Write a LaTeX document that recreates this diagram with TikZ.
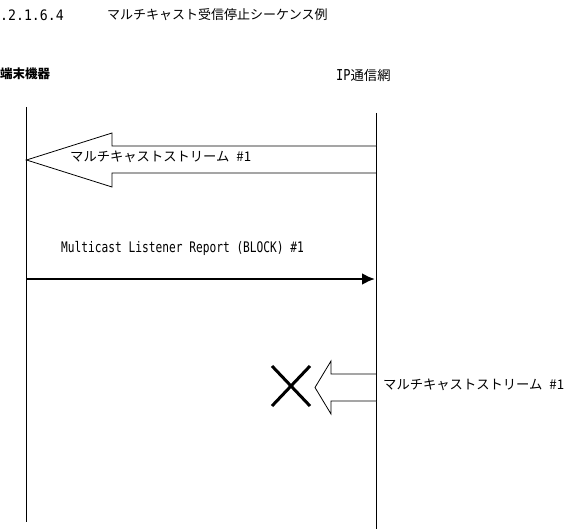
\documentclass[tikz,border=0pt]{standalone}
\usepackage{fontspec}
\setmainfont{Noto Sans CJK JP}
\newfontfamily\lat{DejaVu Sans Mono}
\usetikzlibrary{arrows.meta}
\tikzset{
  jp/.style={inner sep=0pt, anchor=west, font=\fontsize{13.3}{14}\selectfont},
  life/.style={line width=0.9pt},
  fat/.style={draw, line width=0.8pt, fill=white, line join=miter},
  msg/.style={line width=2.5pt, -{Latex[length=13pt,width=12pt]}},
  cross/.style={line width=3pt}
}
\begin{document}
\begin{tikzpicture}[x=1pt,y=-1pt]
\useasboundingbox[fill=white] (0,0) rectangle (584,532);
% title
\node[jp] (num) at (0,15) {\lat\fontsize{12}{14}\selectfont\scalebox{1.1}[1.2]{.2.1.6.4}};
\node[jp, font=\fontsize{13}{14}\selectfont] (title) at (107,15) {マルチキャスト受信停止シーケンス例};
% actors
\node[jp, font=\fontsize{12.5}{14}\selectfont\bfseries] (term) at (0,74) {端末機器};
\node[jp, font=\fontsize{13.3}{14}\selectfont] (ipnet) at (336,75) {{\lat\fontsize{12}{14}\selectfont\scalebox{1}[1.25]{IP}}通信網};
% lifelines
\coordinate (lt) at (26.5,107); \coordinate (lb) at (26.5,522);
\coordinate (rt) at (376.5,113); \coordinate (rb) at (376.5,529);
\draw[life] (lt) -- (lb);
\draw[life] (rt) -- (rb);
% big arrow 1
\draw[fat] (26.5,160) -- (112,133) -- (112,146) -- (376.5,146) -- (376.5,173) -- (112,173) -- (112,187) -- cycle;
\draw[line width=1.5pt] (376.5,146) -- (376.5,173);
\node[jp] (s1) at (70,157) {マルチキャストストリーム\hspace{7pt}\#1};
% message
\node[jp] (m) at (61,248) {\lat\fontsize{11.2}{14}\selectfont\scalebox{1}[1.3]{Multicast Listener Report (BLOCK) \#1}};
\coordinate (ms) at (26.5,279); \coordinate (me) at (375,279);
\draw[msg] (ms) -- (me);
% big arrow 2
\draw[fat] (315,387.5) -- (331,361) -- (331,374) -- (376.5,374) -- (376.5,401) -- (331,401) -- (331,414) -- cycle;
\node[jp] (s2) at (383,385) {マルチキャストストリーム\hspace{7pt}\#1};
% cross
\coordinate (c1) at (272,366); \coordinate (c2) at (310,406);
\coordinate (c3) at (272,406); \coordinate (c4) at (310,366);
\draw[cross] (c1) -- (c2);
\draw[cross] (c3) -- (c4);
\end{tikzpicture}
\end{document}
